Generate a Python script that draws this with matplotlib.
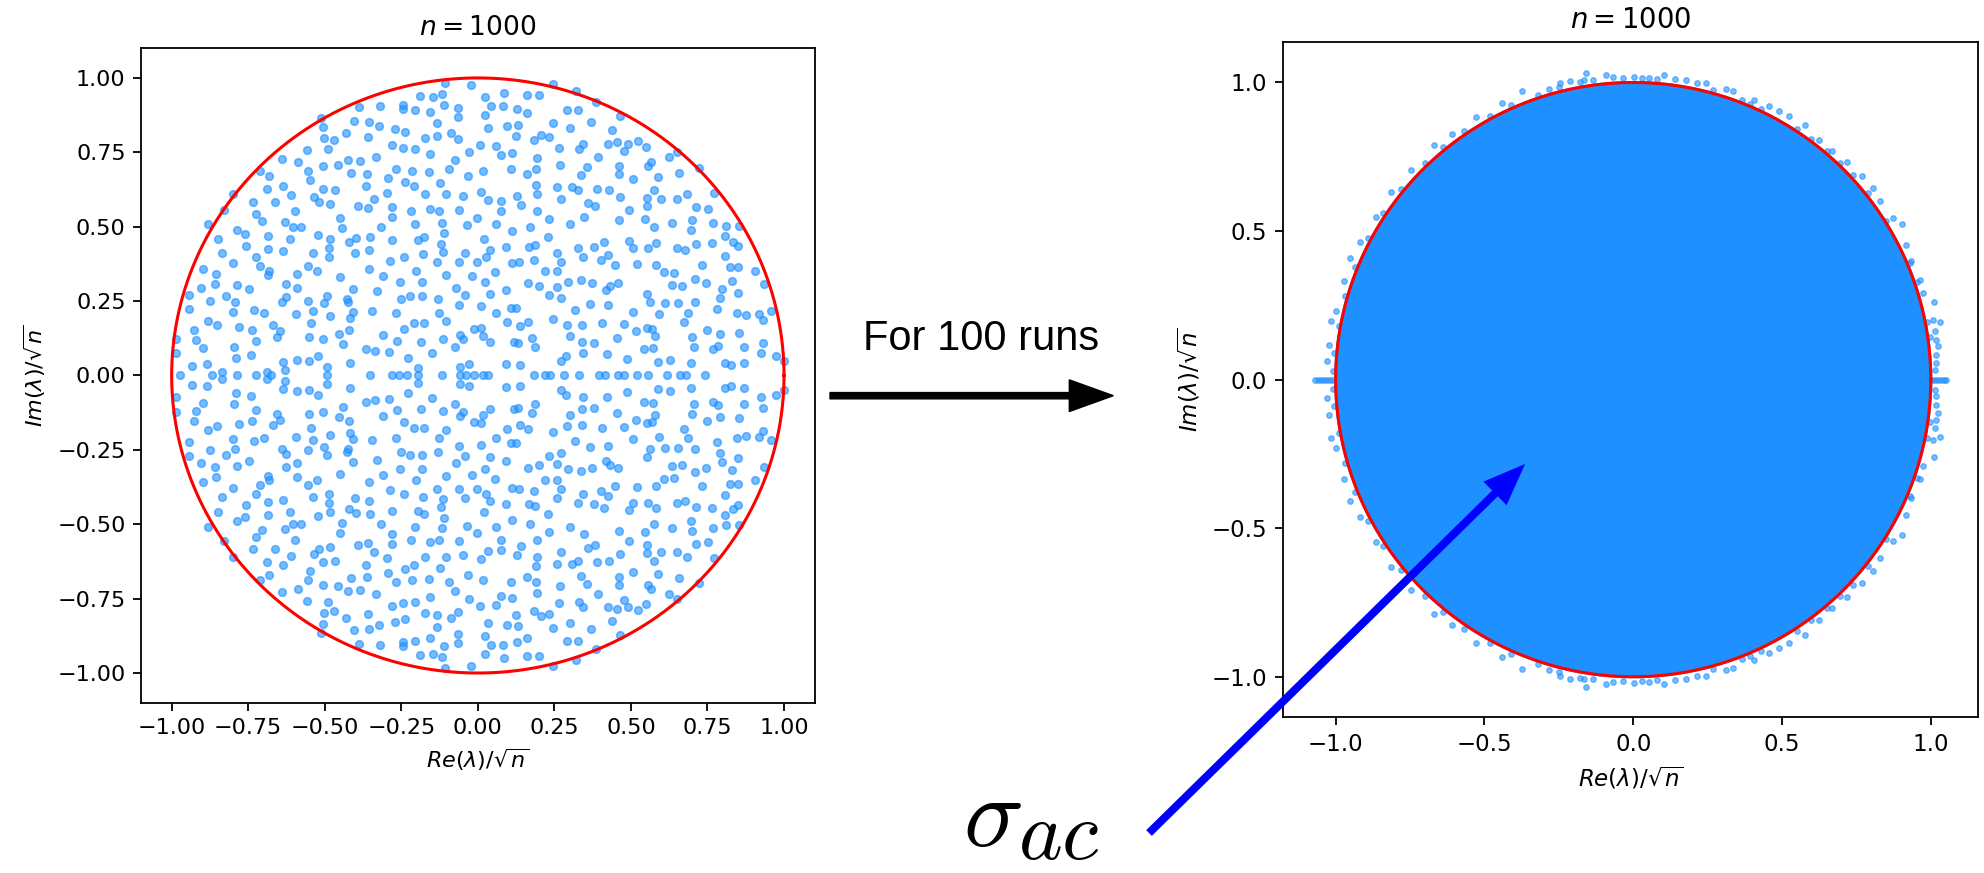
import numpy as np
import matplotlib
matplotlib.use("Agg")
import matplotlib.pyplot as plt
from matplotlib.patches import Circle, FancyArrow

# eigenvalues / sqrt(n) of one real 1000x1000 matrix, upper half plane (Re, Im)
upper = np.array([
    (-0.387, 0.903), (-0.512, 0.864), (-0.505, 0.836), (-0.403, 0.855), (-0.356, 0.853),
    (-0.431, 0.814), (-0.358, 0.803), (-0.501, 0.799), (-0.469, 0.791), (-0.488, 0.760),
    (-0.559, 0.758), (-0.333, 0.735), (-0.639, 0.729), (-0.588, 0.718), (-0.505, 0.705),
    (-0.458, 0.707), (-0.424, 0.723), (-0.384, 0.721), (-0.555, 0.687), (-0.413, 0.679),
    (-0.363, 0.676), (-0.711, 0.687), (-0.683, 0.672), (-0.549, 0.657), (-0.636, 0.638),
    (-0.690, 0.626), (-0.610, 0.607), (-0.506, 0.626), (-0.467, 0.623), (-0.366, 0.638),
    (-0.801, 0.609), (-0.535, 0.601), (-0.518, 0.582), (-0.482, 0.578), (-0.340, 0.593),
    (-0.735, 0.583), (-0.662, 0.582), (-0.828, 0.557), (-0.597, 0.553), (-0.390, 0.570),
    (-0.359, 0.564), (-0.726, 0.543), (-0.449, 0.530),
    (-0.106, 0.984), (-0.021, 0.976), (0.244, 0.978), (0.319, 0.956), (-0.188, 0.939),
    (-0.147, 0.935), (-0.116, 0.946), (0.024, 0.937), (0.084, 0.948), (0.159, 0.944),
    (0.200, 0.944), (-0.319, 0.907), (-0.244, 0.909), (-0.243, 0.896), (-0.204, 0.891),
    (-0.155, 0.884), (-0.111, 0.908), (-0.064, 0.898), (-0.064, 0.869), (0.022, 0.874),
    (0.042, 0.905), (0.082, 0.907), (0.128, 0.896), (0.159, 0.882), (0.290, 0.891),
    (0.326, 0.892), (-0.322, 0.840), (-0.271, 0.829), (-0.238, 0.818), (-0.132, 0.847),
    (0.034, 0.833), (0.096, 0.840), (0.131, 0.842), (0.245, 0.850), (0.302, 0.831),
    (0.371, 0.852), (-0.172, 0.798), (-0.133, 0.804), (-0.087, 0.816), (-0.064, 0.796),
    (0.126, 0.805), (0.182, 0.790), (0.205, 0.809), (0.233, 0.802), (-0.280, 0.775),
    (-0.243, 0.765), (-0.205, 0.760), (-0.157, 0.743), (-0.028, 0.752), (0.006, 0.775),
    (0.059, 0.772), (0.076, 0.741), (0.111, 0.749), (0.264, 0.765), (0.329, 0.761),
    (0.343, 0.777), (-0.266, 0.693), (-0.214, 0.686), (-0.160, 0.685), (-0.073, 0.723),
    (-0.093, 0.693), (-0.033, 0.669), (0.017, 0.688), (0.107, 0.693), (0.159, 0.678),
    (0.190, 0.695), (0.194, 0.730), (0.269, 0.707), (0.337, 0.675), (0.355, 0.701),
    (-0.292, 0.665), (-0.238, 0.650), (-0.208, 0.637), (-0.125, 0.648), (0.190, 0.641),
    (0.259, 0.634), (0.307, 0.632), (0.327, 0.623), (-0.297, 0.613), (-0.171, 0.609),
    (-0.104, 0.610), (-0.047, 0.604), (0.010, 0.618), (0.034, 0.591), (0.076, 0.586),
    (0.076, 0.553), (0.127, 0.602), (0.141, 0.573), (0.192, 0.609), (0.271, 0.593),
    (0.361, 0.580), (-0.279, 0.565), (-0.218, 0.554), (-0.157, 0.558), (-0.128, 0.554),
    (-0.063, 0.555), (0.192, 0.552), (0.347, 0.532), (-0.279, 0.532), (-0.004, 0.529),
    (0.234, 0.526),
    (0.387, 0.918), (0.465, 0.872), (0.439, 0.824), (0.426, 0.778), (0.455, 0.784),
    (0.490, 0.777), (0.522, 0.787), (0.550, 0.768), (0.478, 0.753), (0.393, 0.735),
    (0.460, 0.705), (0.461, 0.676), (0.557, 0.703), (0.564, 0.719), (0.623, 0.733),
    (0.651, 0.752), (0.506, 0.660), (0.590, 0.667), (0.656, 0.679), (0.721, 0.696),
    (0.390, 0.628), (0.430, 0.622), (0.464, 0.601), (0.554, 0.598), (0.576, 0.625),
    (0.598, 0.594), (0.649, 0.594), (0.682, 0.609), (0.770, 0.614), (0.554, 0.570),
    (0.495, 0.557), (0.714, 0.565), (0.752, 0.561), (0.384, 0.571),
    (-0.882, 0.508), (-0.706, 0.518), (-0.631, 0.516), (-0.603, 0.498), (-0.576, 0.498),
    (-0.443, 0.495), (-0.788, 0.490), (-0.760, 0.476), (-0.850, 0.459), (-0.758, 0.435),
    (-0.687, 0.468), (-0.615, 0.459), (-0.685, 0.426), (-0.638, 0.419), (-0.521, 0.472),
    (-0.482, 0.460), (-0.486, 0.430), (-0.485, 0.398), (-0.540, 0.410), (-0.420, 0.448),
    (-0.398, 0.463), (-0.352, 0.466), (-0.401, 0.413), (-0.356, 0.423), (-0.835, 0.410),
    (-0.801, 0.379), (-0.725, 0.397), (-0.711, 0.369), (-0.681, 0.351), (-0.685, 0.337),
    (-0.591, 0.341), (-0.556, 0.369), (-0.524, 0.352), (-0.451, 0.331), (-0.354, 0.358),
    (-0.899, 0.358), (-0.856, 0.341), (-0.858, 0.308), (-0.903, 0.294), (-0.788, 0.303),
    (-0.746, 0.289), (-0.945, 0.270), (-0.824, 0.267), (-0.874, 0.251), (-0.794, 0.248),
    (-0.626, 0.307), (-0.592, 0.295), (-0.628, 0.264), (-0.641, 0.247), (-0.556, 0.251),
    (-0.504, 0.242), (-0.492, 0.267), (-0.427, 0.257), (-0.424, 0.246), (-0.409, 0.292),
    (-0.944, 0.223), (-0.801, 0.212), (-0.731, 0.220), (-0.699, 0.210), (-0.595, 0.207),
    (-0.537, 0.216), (-0.483, 0.201), (-0.409, 0.214), (-0.418, 0.193), (-0.347, 0.216),
    (-0.881, 0.183), (-0.851, 0.170), (-0.779, 0.162), (-0.928, 0.154), (-0.737, 0.152),
    (-0.670, 0.168), (-0.645, 0.150), (-0.657, 0.130), (-0.544, 0.176), (-0.552, 0.130),
    (-0.505, 0.122), (-0.452, 0.139), (-0.439, 0.107), (-0.421, 0.154), (-0.985, 0.123),
    (-0.921, 0.118), (-0.897, 0.094), (-0.724, 0.116), (-0.797, 0.097), (-0.365, 0.088),
    (-0.335, 0.083), (-0.987, 0.074), (-0.790, 0.060), (-0.740, 0.069), (-0.636, 0.044),
    (-0.630, 0.018), (-0.592, 0.052), (-0.552, 0.049), (-0.521, 0.064), (-0.416, 0.042),
    (-0.493, 0.030), (-0.934, 0.033), (-0.886, 0.037), (-0.837, 0.013), (-0.690, 0.013),
    (-0.315, 0.498), (-0.205, 0.508), (-0.117, 0.513), (-0.109, 0.480), (-0.035, 0.506),
    (0.058, 0.508), (0.113, 0.485), (0.169, 0.499), (0.301, 0.508), (-0.281, 0.455),
    (-0.196, 0.455), (-0.177, 0.466), (-0.120, 0.441), (-0.113, 0.416), (0.021, 0.460),
    (0.039, 0.423), (0.027, 0.399), (0.093, 0.433), (0.166, 0.431), (0.187, 0.438),
    (0.229, 0.467), (0.326, 0.430), (0.345, 0.399), (-0.287, 0.384), (-0.241, 0.398),
    (-0.179, 0.409), (-0.135, 0.382), (-0.061, 0.382), (-0.042, 0.413), (-0.004, 0.382),
    (0.057, 0.347), (0.112, 0.377), (0.134, 0.382), (0.184, 0.387), (0.260, 0.412),
    (0.272, 0.383), (-0.311, 0.333), (-0.255, 0.313), (-0.201, 0.351), (-0.182, 0.314),
    (-0.104, 0.337), (-0.019, 0.333), (0.025, 0.313), (0.093, 0.287), (0.164, 0.311),
    (0.200, 0.302), (0.220, 0.351), (0.259, 0.351), (0.295, 0.315), (0.338, 0.320),
    (-0.328, 0.283), (-0.251, 0.256), (-0.222, 0.268), (-0.182, 0.268), (-0.131, 0.256),
    (-0.070, 0.293), (-0.042, 0.272), (-0.062, 0.237), (0.010, 0.233), (0.039, 0.273),
    (0.109, 0.228), (0.124, 0.227), (0.233, 0.271), (0.259, 0.299), (0.270, 0.261),
    (0.316, 0.220), (0.366, 0.239), (-0.268, 0.211), (-0.209, 0.177), (-0.176, 0.175),
    (-0.127, 0.209), (-0.104, 0.184), (0.060, 0.209), (0.096, 0.179), (0.137, 0.165),
    (0.164, 0.181), (0.245, 0.191), (0.290, 0.171), (0.341, 0.168), (-0.311, 0.135),
    (-0.241, 0.155), (-0.263, 0.117), (-0.186, 0.113), (-0.115, 0.121), (-0.075, 0.097),
    (-0.057, 0.136), (-0.049, 0.123), (-0.013, 0.156), (0.011, 0.159), (0.016, 0.133),
    (0.039, 0.111), (0.117, 0.113), (0.132, 0.109), (0.176, 0.127), (0.187, 0.096),
    (0.302, 0.133), (0.340, 0.111), (-0.290, 0.078), (-0.227, 0.058), (-0.151, 0.077),
    (0.272, 0.050), (0.289, 0.064), (0.344, 0.074), (0.093, 0.040), (0.138, 0.034),
    (-0.059, 0.028), (-0.028, 0.037), (-0.194, 0.024),
    (0.461, 0.523), (0.547, 0.525), (0.700, 0.523), (0.634, 0.511), (0.697, 0.490),
    (0.767, 0.514), (0.809, 0.503), (0.852, 0.503), (0.575, 0.500), (0.378, 0.431),
    (0.412, 0.447), (0.495, 0.452), (0.508, 0.428), (0.556, 0.428), (0.583, 0.445),
    (0.650, 0.430), (0.675, 0.422), (0.714, 0.442), (0.764, 0.445), (0.806, 0.468),
    (0.832, 0.450), (0.849, 0.435), (0.806, 0.403), (0.401, 0.389), (0.425, 0.405),
    (0.447, 0.372), (0.520, 0.374), (0.583, 0.372), (0.608, 0.347), (0.641, 0.345),
    (0.731, 0.372), (0.825, 0.366), (0.850, 0.366), (0.905, 0.351), (0.374, 0.311),
    (0.418, 0.286), (0.431, 0.300), (0.458, 0.311), (0.554, 0.274), (0.562, 0.248),
    (0.610, 0.244), (0.635, 0.304), (0.668, 0.301), (0.655, 0.244), (0.708, 0.246),
    (0.708, 0.323), (0.744, 0.310), (0.798, 0.291), (0.790, 0.262), (0.829, 0.318),
    (0.850, 0.276), (0.935, 0.309), (0.426, 0.237), (0.506, 0.215), (0.593, 0.208),
    (0.688, 0.209), (0.673, 0.181), (0.781, 0.225), (0.845, 0.211), (0.875, 0.202),
    (0.918, 0.208), (0.931, 0.187), (0.958, 0.216), (0.404, 0.175), (0.478, 0.173),
    (0.517, 0.148), (0.551, 0.159), (0.568, 0.157), (0.579, 0.134), (0.700, 0.131),
    (0.750, 0.153), (0.790, 0.141), (0.853, 0.142), (0.380, 0.109), (0.453, 0.126),
    (0.421, 0.071), (0.486, 0.056), (0.542, 0.088), (0.572, 0.094), (0.587, 0.046),
    (0.629, 0.053), (0.695, 0.043), (0.707, 0.096), (0.767, 0.089), (0.784, 0.100),
    (0.870, 0.095), (0.931, 0.109), (0.924, 0.074), (0.975, 0.065), (1.000, 0.049),
    (0.806, 0.041), (0.828, 0.035), (0.870, 0.043),
])

# real eigenvalues / sqrt(n) of the same matrix
real_eigs = [-0.972, -0.867, -0.785, -0.725, -0.676, -0.494, -0.353,
             -0.280, -0.258, -0.230, -0.194, -0.116, -0.058, -0.038, -0.011,
             0.018, 0.034, 0.184, 0.218, 0.235, 0.283, 0.330,
             0.396, 0.414, 0.458, 0.477, 0.521, 0.557, 0.617, 0.661, 0.681, 0.742]

# 100 runs: the bulk fills the disk; these are the eigenvalues sticking out of it
# (upper half plane, Re, Im)
edge_upper = np.array([
    (-0.159, 1.033), (-0.212, 1.006), (-0.166, 1.009), (-0.091, 1.025), (-0.067, 1.018),
    (0.002, 1.020), (0.054, 1.016), (0.104, 1.024), (0.140, 1.012), (0.177, 1.008),
    (0.243, 0.999), (0.311, 0.978), (0.336, 0.970), (0.406, 0.942), (0.456, 0.920),
    (0.490, 0.903), (0.524, 0.886), (0.578, 0.858), (0.625, 0.808), (0.667, 0.768),
    (0.719, 0.731), (0.768, 0.686), (0.807, 0.645), (0.829, 0.600), (0.874, 0.544),
    (0.902, 0.524), (0.918, 0.454), (0.935, 0.398), (0.965, 0.336), (0.974, 0.292),
    (1.010, 0.260), (1.008, 0.202), (1.030, 0.194), (1.014, 0.162), (1.025, 0.112),
    (1.019, 0.056), (-0.375, 0.973), (-0.283, 0.978), (-0.442, 0.932), (-0.530, 0.885),
    (-0.610, 0.825), (-0.671, 0.788), (-0.746, 0.707), (-0.813, 0.632), (-0.866, 0.548),
    (-0.919, 0.464), (-0.951, 0.408), (-0.972, 0.333), (-0.998, 0.230), (-1.016, 0.196),
    (-1.021, 0.118), (-1.028, 0.062),
    (-0.246, 0.998), (-0.179, 1.003), (-0.134, 1.009), (-0.034, 1.015), (0.028, 1.015),
    (0.079, 1.011), (0.213, 0.998), (0.269, 0.975), (0.364, 0.940), (0.392, 0.929),
    (0.431, 0.912), (0.549, 0.845), (0.599, 0.809), (0.650, 0.770), (0.695, 0.728),
    (0.739, 0.690), (0.790, 0.627), (0.851, 0.535), (0.930, 0.391), (0.952, 0.330),
    (0.986, 0.195), (0.997, 0.142), (1.019, 0.135), (1.019, 0.084), (1.014, 0.034),
    (-0.250, 0.985), (-0.320, 0.958), (-0.410, 0.925), (-0.480, 0.888), (-0.570, 0.838),
    (-0.640, 0.782), (-0.700, 0.728), (-0.780, 0.640), (-0.840, 0.560), (-0.890, 0.475),
    (-0.935, 0.378), (-0.968, 0.280), (-0.990, 0.180), (-1.005, 0.090), (-1.010, 0.030),
])
edge_real = [-1.070, -1.060, -1.050, -1.040, -1.030, -1.020, -1.010,
             1.005, 1.015, 1.025, 1.035, 1.045, 1.052]
bulk_radius = 1.005

left_ticks = [-1.0, -0.75, -0.5, -0.25, 0.0, 0.25, 0.5, 0.75, 1.0]
right_ticks = [-1.0, -0.5, 0.0, 0.5, 1.0]


def conj_spectrum(up, real):
    # real matrix -> spectrum is symmetric about the real axis
    re = np.concatenate([up[:, 0], up[:, 0], real])
    im = np.concatenate([up[:, 1], -up[:, 1], np.zeros(len(real))])
    return re, im


def fmt(t):
    return ('%.2f' % t).replace('-', '\u2212')


blue = 'dodgerblue'
theta = np.linspace(0, 2 * np.pi, 500)

fig = plt.figure(figsize=(19.84, 8.73), dpi=100)

# single run
ax1 = fig.add_axes([0.0711, 0.1950, 0.3395, 0.7498])
re1, im1 = conj_spectrum(upper, real_eigs)
ax1.scatter(re1, im1, s=30, c=blue, alpha=0.6, linewidths=1.2, zorder=2)
ax1.plot(np.cos(theta), np.sin(theta), color='red', lw=2.2, zorder=3)
ax1.set_xticks(left_ticks)
ax1.set_yticks(left_ticks)
ax1.set_xticklabels([fmt(t) for t in left_ticks])
ax1.set_yticklabels([fmt(t) for t in left_ticks])
ax1.tick_params(labelsize=16, length=5.5, width=1.3, pad=5.6)
ax1.set_title(r'$n = 1000$', fontsize=19.2, pad=9.6)
ax1.set_xlabel(r'$Re(\lambda)/\sqrt{n}$', fontsize=16, labelpad=6.4)
ax1.set_ylabel(r'$Im(\lambda)/\sqrt{n}$', fontsize=16, labelpad=6.4)

# 100 runs
ax2 = fig.add_axes([0.6468, 0.1784, 0.3501, 0.7735])
re2, im2 = conj_spectrum(edge_upper, edge_real)
ax2.add_patch(Circle((0, 0), bulk_radius, color=blue, lw=0, zorder=1))
ax2.scatter(re2, im2, s=16, c=blue, alpha=0.6, linewidths=0.9, zorder=2)
ax2.plot(np.cos(theta), np.sin(theta), color='red', lw=2.2, zorder=3)
ax2.set_xticks(right_ticks)
ax2.set_yticks(right_ticks)
ax2.tick_params(labelsize=16.5, length=5.8, width=1.3, pad=5.8)
ax2.set_title(r'$n = 1000$', fontsize=19.8, pad=9.9)
ax2.set_xlabel(r'$Re(\lambda)/\sqrt{n}$', fontsize=16.5, labelpad=6.6)
ax2.set_ylabel(r'$Im(\lambda)/\sqrt{n}$', fontsize=16.5, labelpad=6.6)

for ax in (ax1, ax2):
    for sp in ax.spines.values():
        sp.set_linewidth(1.3)

fig.text(0.4348, 0.599, 'For 100 runs', fontsize=30, family='Liberation Sans',
         ha='left', va='baseline')
fig.add_artist(FancyArrow(8.30, 4.773, 2.833, 0, width=0.063, head_width=0.317,
                          head_length=0.44, length_includes_head=True, color='black',
                          transform=fig.dpi_scale_trans, zorder=5))
fig.add_artist(FancyArrow(11.49, 0.40, 3.76, 3.69, width=0.08, head_width=0.33,
                          head_length=0.42, length_includes_head=True, color='blue',
                          lw=0, transform=fig.dpi_scale_trans, zorder=5))

fig.text(0.4855, 0.031, r'$\sigma$', fontsize=72, math_fontfamily='cm',
         ha='left', va='baseline')
fig.text(0.5133, 0.016, r'$ac$', fontsize=60, math_fontfamily='cm',
         ha='left', va='baseline')

fig.savefig('out.png', dpi=100)
